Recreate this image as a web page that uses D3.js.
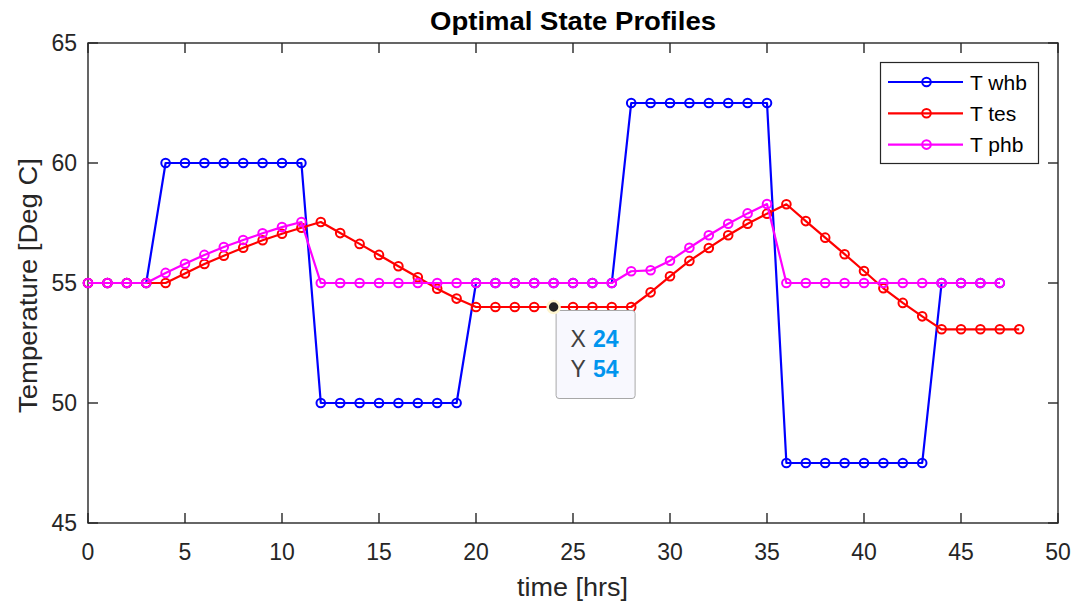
<!DOCTYPE html>
<html>
<head>
<meta charset="utf-8">
<script src="https://cdn.jsdelivr.net/npm/d3@7"></script>
<style>
  html, body { margin: 0; padding: 0; background: #fff; }
  svg { display: block; font-family: "Liberation Sans", Arial, Helvetica, sans-serif; }
</style>
</head>
<body>
<svg id="chart" width="1077" height="606"></svg>
<script>
// Temperature profiles over a 48-hour horizon
const hoursWhb = d3.range(0, 48);
const tWhb = [55, 55, 55, 55,
              60, 60, 60, 60, 60, 60, 60, 60,
              50, 50, 50, 50, 50, 50, 50, 50,
              55, 55, 55, 55, 55, 55, 55, 55,
              62.5, 62.5, 62.5, 62.5, 62.5, 62.5, 62.5, 62.5,
              47.5, 47.5, 47.5, 47.5, 47.5, 47.5, 47.5, 47.5,
              55, 55, 55, 55];

const hoursTes = d3.range(0, 49);
const tTes = [55, 55, 55, 55, 55,
              55.4, 55.79, 56.14, 56.47, 56.78, 57.05, 57.3, 57.54,
              57.08, 56.63, 56.17, 55.7, 55.24, 54.76, 54.35,
              54, 54, 54, 54, 54, 54, 54, 54, 54,
              54.61, 55.28, 55.92, 56.46, 56.99, 57.47, 57.89, 58.28,
              57.58, 56.89, 56.2, 55.5, 54.78, 54.17, 53.61,
              53.07, 53.07, 53.07, 53.07, 53.07];

const hoursPhb = d3.range(0, 48);
const tPhb = [55, 55, 55, 55,
              55.42, 55.8, 56.17, 56.5, 56.79, 57.07, 57.33, 57.54,
              55, 55, 55, 55, 55, 55, 55, 55, 55, 55, 55, 55, 55, 55, 55, 55,
              55.49, 55.53, 55.93, 56.47, 56.99, 57.47, 57.9, 58.29,
              55, 55, 55, 55, 55, 55, 55, 55, 55, 55, 55, 55];

const seriesNames = ["T whb", "T tes", "T phb"];
const seriesColors = ["#0000ff", "#ff0000", "#ff00ff"];

const xTicks = [0, 5, 10, 15, 20, 25, 30, 35, 40, 45, 50];
const yTicks = [45, 50, 55, 60, 65];

// highlighted data point
const tipX = 24, tipY = 54;

const svg = d3.select("#chart");
const margin = { left: 88, right: 1058, top: 43, bottom: 523 };
const axisColor = "#262626";

const x = d3.scaleLinear().domain([0, 50]).range([margin.left, margin.right]);
const y = d3.scaleLinear().domain([45, 65]).range([margin.bottom, margin.top]);

// axes box
svg.append("rect")
  .attr("x", margin.left).attr("y", margin.top)
  .attr("width", margin.right - margin.left).attr("height", margin.bottom - margin.top)
  .attr("fill", "none").attr("stroke", axisColor).attr("stroke-width", 1.4);

const tickLen = 10;
const tickG = svg.append("g").attr("stroke", axisColor).attr("stroke-width", 1.4);
xTicks.forEach(t => {
  tickG.append("line").attr("x1", x(t)).attr("x2", x(t)).attr("y1", margin.bottom).attr("y2", margin.bottom - tickLen);
  tickG.append("line").attr("x1", x(t)).attr("x2", x(t)).attr("y1", margin.top).attr("y2", margin.top + tickLen);
});
yTicks.forEach(t => {
  tickG.append("line").attr("x1", margin.left).attr("x2", margin.left + tickLen).attr("y1", y(t)).attr("y2", y(t));
  tickG.append("line").attr("x1", margin.right).attr("x2", margin.right - tickLen).attr("y1", y(t)).attr("y2", y(t));
});

// tick labels
svg.append("g").selectAll("text").data(xTicks).join("text")
  .attr("x", d => x(d)).attr("y", 560)
  .attr("text-anchor", "middle").attr("font-size", 23).attr("fill", axisColor)
  .text(d => d);
svg.append("g").selectAll("text").data(yTicks).join("text")
  .attr("x", 77).attr("y", d => y(d) + 8)
  .attr("text-anchor", "end").attr("font-size", 23).attr("fill", axisColor)
  .text(d => d);

// title and axis labels
svg.append("text").attr("x", 430).attr("y", 30)
  .attr("font-size", 26).attr("font-weight", "bold").attr("fill", "#000")
  .attr("textLength", 286).attr("lengthAdjust", "spacingAndGlyphs")
  .text("Optimal State Profiles");
svg.append("text").attr("x", 517).attr("y", 596)
  .attr("font-size", 25).attr("fill", axisColor)
  .attr("textLength", 111).attr("lengthAdjust", "spacingAndGlyphs")
  .text("time [hrs]");
svg.append("text").attr("transform", "translate(37,413) rotate(-90)")
  .attr("font-size", 25).attr("fill", axisColor)
  .attr("textLength", 255).attr("lengthAdjust", "spacingAndGlyphs")
  .text("Temperature [Deg C]");

// series lines with circle markers
const seriesData = [
  { xs: hoursWhb, ys: tWhb },
  { xs: hoursTes, ys: tTes },
  { xs: hoursPhb, ys: tPhb }
];
const line = d3.line().x(d => x(d[0])).y(d => y(d[1]));

seriesData.forEach((s, i) => {
  const pts = s.xs.map((t, k) => [t, s.ys[k]]);
  const g = svg.append("g");
  g.append("path").datum(pts).attr("d", line)
    .attr("fill", "none").attr("stroke", seriesColors[i]).attr("stroke-width", 2.2)
    .attr("stroke-linejoin", "round");
  g.selectAll("circle").data(pts).join("circle")
    .attr("cx", d => x(d[0])).attr("cy", d => y(d[1])).attr("r", 4.3)
    .attr("fill", "none").attr("stroke", seriesColors[i]).attr("stroke-width", 2);
});

// legend
const lg = svg.append("g");
lg.append("rect").attr("x", 880.5).attr("y", 62.5).attr("width", 158).attr("height", 101)
  .attr("fill", "#fff").attr("stroke", axisColor).attr("stroke-width", 1.2);
seriesNames.forEach((name, i) => {
  const yy = 82 + i * 31.3;
  lg.append("line").attr("x1", 888).attr("x2", 963).attr("y1", yy).attr("y2", yy)
    .attr("stroke", seriesColors[i]).attr("stroke-width", 2.2);
  lg.append("circle").attr("cx", 926.5).attr("cy", yy).attr("r", 4.3)
    .attr("fill", "none").attr("stroke", seriesColors[i]).attr("stroke-width", 2);
  lg.append("text").attr("x", 970).attr("y", yy + 7.5)
    .attr("font-size", 21).attr("fill", "#000").text(name);
});

// data tip
const tg = svg.append("g");
tg.append("rect").attr("x", x(tipX) + 2.5).attr("y", y(tipY) + 3.5).attr("width", 79).attr("height", 88).attr("rx", 3)
  .attr("fill", "#f8f8fe").attr("stroke", "#a8a8a8").attr("stroke-width", 1);
tg.append("circle").attr("cx", x(tipX)).attr("cy", y(tipY)).attr("r", 6)
  .attr("fill", "#222").attr("stroke", "#fff6d0").attr("stroke-width", 2.5);
[["X", tipX], ["Y", tipY]].forEach((row, i) => {
  const t = tg.append("text").attr("x", x(tipX) + 17).attr("y", y(tipY) + 40 + i * 30).attr("font-size", 23);
  t.append("tspan").attr("fill", "#404040").text(row[0]);
  t.append("tspan").attr("dx", 7).attr("fill", "#0095ee").attr("font-weight", "bold").text(row[1]);
});
</script>
</body>
</html>
